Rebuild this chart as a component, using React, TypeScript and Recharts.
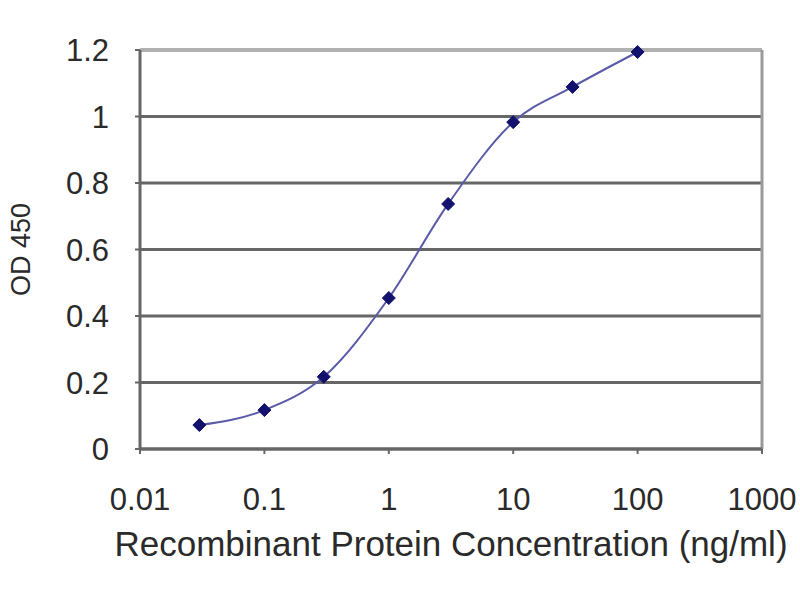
import React from 'react';
import { LineChart, Line, XAxis, YAxis, CartesianGrid, ReferenceLine } from 'recharts';

const concentrations = [0.03, 0.1, 0.3, 1, 3, 10, 30, 100];
const od450 = [0.072, 0.117, 0.217, 0.454, 0.737, 0.983, 1.089, 1.194];
const xTicks = [0.01, 0.1, 1, 10, 100, 1000];
const yTicks = [0, 0.2, 0.4, 0.6, 0.8, 1, 1.2];

const chartData = concentrations.map((c, i) => ({ conc: c, od: od450[i] }));

const font = '"Liberation Sans", Arial, sans-serif';

// diamond marker like the Excel default
function Diamond(props: any) {
  const { cx, cy } = props;
  if (cx == null || cy == null) return null;
  const r = 6.5;
  return (
    <path
      d={`M${cx},${cy - r} L${cx + r},${cy} L${cx},${cy + r} L${cx - r},${cy} Z`}
      fill="#12126e"
      stroke="#12126e"
      strokeWidth={1}
    />
  );
}

export default function App() {
  return (
    <div style={{ position: 'absolute', left: 0, top: 0, background: '#fff' }}>
      <LineChart
        width={800}
        height={600}
        data={chartData}
        margin={{ top: 50, right: 38, left: 0, bottom: 0 }}
        style={{ fontFamily: font }}
      >
        <CartesianGrid horizontal vertical={false} stroke="#666" strokeWidth={3} />
        <XAxis
          dataKey="conc"
          type="number"
          scale="log"
          domain={[0.01, 1000]}
          ticks={xTicks}
          allowDataOverflow
          height={151}
          tickSize={5}
          tickMargin={34}
          axisLine={{ stroke: '#666', strokeWidth: 3 }}
          tickLine={{ stroke: '#666', strokeWidth: 2 }}
          tick={{ fontSize: 31, fill: '#2a2a2a', fontFamily: font }}
          label={{
            value: 'Recombinant Protein Concentration (ng/ml)',
            position: 'insideBottom',
            offset: 44,
            fontSize: 35,
            fill: '#2a2a2a',
            fontFamily: font,
          }}
        />
        <YAxis
          type="number"
          domain={[0, 1.2]}
          ticks={yTicks}
          width={140}
          tickSize={5}
          tickMargin={26}
          axisLine={{ stroke: '#666', strokeWidth: 3 }}
          tickLine={{ stroke: '#666', strokeWidth: 2 }}
          tick={{ fontSize: 31, fill: '#2a2a2a', fontFamily: font }}
          label={{
            value: 'OD 450',
            angle: -90,
            position: 'insideLeft',
            offset: 20,
            fontSize: 27,
            fill: '#2a2a2a',
            fontFamily: font,
            style: { textAnchor: 'middle' },
          }}
        />
        <ReferenceLine y={1.2} stroke="#b0b0b0" strokeWidth={3} />
        <ReferenceLine x={1000} stroke="#9a9a9a" strokeWidth={3} />
        <Line
          type="monotone"
          dataKey="od"
          stroke="#5a5aa8"
          strokeWidth={2}
          dot={<Diamond />}
          activeDot={false}
          isAnimationActive={false}
        />
      </LineChart>
    </div>
  );
}
